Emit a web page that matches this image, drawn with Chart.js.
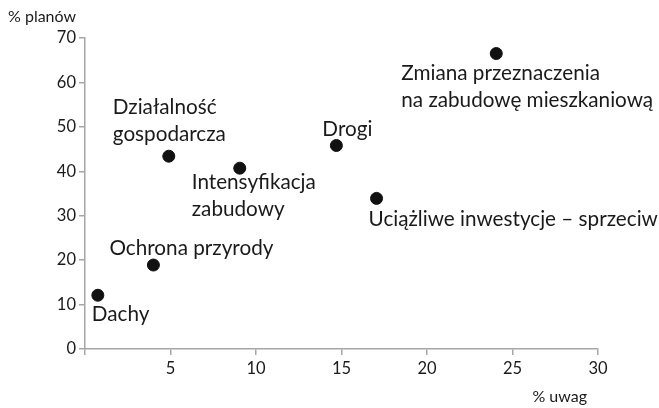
<!DOCTYPE html>
<html>
<head>
<meta charset="utf-8">
<script src="https://cdn.jsdelivr.net/npm/chart.js@4"></script>
<style>
  html, body { margin: 0; padding: 0; background: #fff; }
  #wrap { width: 659px; height: 408px; position: relative; }
</style>
</head>
<body>
<div id="wrap"><canvas id="chart"></canvas></div>
<script>
// values: x = % uwag, y = % planów
const names = [
  ['Dachy'],
  ['Ochrona przyrody'],
  ['Działalność', 'gospodarcza'],
  ['Intensyfikacja', 'zabudowy'],
  ['Drogi'],
  ['Uciążliwe inwestycje – sprzeciw'],
  ['Zmiana przeznaczenia', 'na zabudowę mieszkaniową']
];
const uwag = [0.75, 4.0, 4.9, 9.05, 14.7, 17.05, 24.05];
const planow = [12.1, 18.9, 43.4, 40.7, 45.8, 33.9, 66.5];
const xTicks = [0, 5, 10, 15, 20, 25, 30];
const yTicks = [0, 10, 20, 30, 40, 50, 60, 70];

// where each label sits relative to its dot (px): left edge, first line middle
const labelOffsets = [
  [-6, 19], [-44, -17], [-56, -49], [-48, 14], [-14, -16], [-8, 21], [-95, 20]
];

const FONT = 'Lato, "Open Sans", sans-serif';
const AXIS = '#a6a6a6';

const labelPlugin = {
  id: 'pointLabels',
  afterDatasetsDraw(chart) {
    const ctx = chart.ctx;
    const meta = chart.getDatasetMeta(0);
    ctx.save();
    ctx.fillStyle = '#1a1a1a';
    ctx.font = '20.7px ' + FONT;
    ctx.textBaseline = 'middle';
    ctx.textAlign = 'left';
    meta.data.forEach((pt, i) => {
      const [dx, dy] = labelOffsets[i];
      names[i].forEach((line, j) => {
        ctx.fillText(line, pt.x + dx, pt.y + dy + j * 27);
      });
    });
    // axis titles
    const area = chart.chartArea;
    ctx.font = '16px ' + FONT;
    ctx.fillText('% planów', 8, 17);
    ctx.textAlign = 'right';
    ctx.fillText('% uwag', area.right - 11, 397);
    ctx.restore();
  }
};

new Chart(document.getElementById('chart'), {
  type: 'scatter',
  data: {
    datasets: [{
      data: uwag.map((x, i) => ({ x: x, y: planow[i] })),
      backgroundColor: '#111',
      borderColor: '#111',
      pointRadius: 6,
      pointHoverRadius: 6
    }]
  },
  options: {
    responsive: true,
    maintainAspectRatio: false,
    animation: false,
    layout: { padding: { top: 38, right: 61, left: 0, bottom: 0 } },
    plugins: { legend: { display: false }, tooltip: { enabled: false } },
    scales: {
      x: {
        type: 'linear',
        min: 0, max: 30,
        afterBuildTicks: s => { s.ticks = xTicks.map(v => ({ value: v })); },
        afterFit: s => { s.height = 59; },
        border: { color: AXIS, width: 1.5 },
        grid: { drawOnChartArea: false, drawTicks: true, tickLength: 6, color: AXIS, lineWidth: 1.5 },
        ticks: {
          color: '#1a1a1a',
          font: { family: FONT, size: 16.5 },
          padding: 4,
          maxRotation: 0,
          callback: v => v === 0 ? '' : v
        }
      },
      y: {
        min: 0, max: 70,
        afterBuildTicks: s => { s.ticks = yTicks.map(v => ({ value: v })); },
        afterFit: s => { s.width = 85; },
        border: { color: AXIS, width: 1.5 },
        grid: { drawOnChartArea: false, drawTicks: true, tickLength: 6, color: AXIS, lineWidth: 1.5 },
        ticks: {
          color: '#1a1a1a',
          font: { family: FONT, size: 16.5 },
          padding: 3
        }
      }
    }
  },
  plugins: [labelPlugin]
});
</script>
</body>
</html>
